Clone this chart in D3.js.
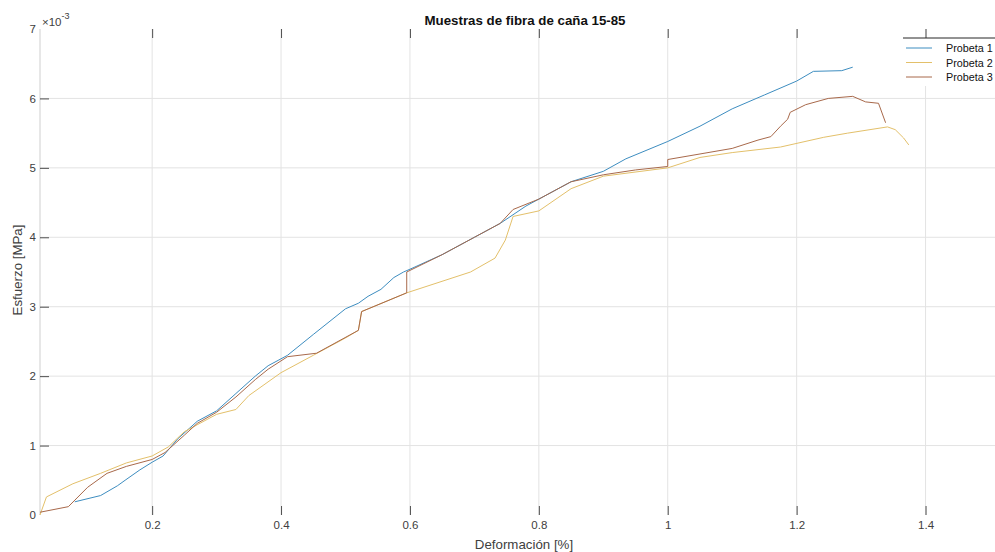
<!DOCTYPE html>
<html>
<head>
<meta charset="utf-8">
<script src="https://cdn.jsdelivr.net/npm/d3@7"></script>
<style>
  html, body { margin: 0; padding: 0; background: #fff; }
  svg { display: block; font-family: "Liberation Sans", Arial, sans-serif; }
</style>
</head>
<body>
<svg id="chart" width="995" height="552"></svg>
<script>
// Strain (%) and stress (x10^-3 MPa) for each specimen
const probeta1X = [0.08,0.12,0.146,0.158,0.181,0.2,0.217,0.24,0.27,0.3,0.33,0.36,0.38,0.41,0.45,0.5,0.52,0.535,0.555,0.575,0.59,0.6,0.65,0.7,0.74,0.78,0.8,0.85,0.9,0.935,1.0,1.05,1.1,1.15,1.2,1.226,1.27,1.287];
const probeta1Y = [0.19,0.28,0.42,0.5,0.65,0.76,0.85,1.1,1.35,1.5,1.75,2.0,2.15,2.3,2.6,2.97,3.05,3.15,3.25,3.42,3.5,3.54,3.75,4.0,4.2,4.45,4.55,4.8,4.95,5.13,5.38,5.6,5.85,6.05,6.25,6.39,6.4,6.45];

const probeta2X = [0.026,0.036,0.077,0.12,0.16,0.2,0.225,0.25,0.3,0.33,0.35,0.4,0.45,0.5,0.52,0.525,0.595,0.694,0.732,0.748,0.76,0.8,0.85,0.9,1.0,1.05,1.1,1.175,1.242,1.279,1.341,1.353,1.366,1.374];
const probeta2Y = [0.0,0.26,0.45,0.6,0.75,0.85,0.98,1.2,1.45,1.52,1.72,2.05,2.3,2.55,2.66,2.93,3.2,3.5,3.7,3.96,4.3,4.38,4.7,4.88,5.0,5.15,5.22,5.3,5.44,5.5,5.59,5.55,5.43,5.33];

const probeta3X = [0.026,0.07,0.1,0.13,0.16,0.2,0.22,0.25,0.27,0.3,0.33,0.36,0.38,0.41,0.455,0.52,0.525,0.595,0.595,0.65,0.7,0.74,0.76,0.8,0.85,0.9,0.95,1.0,1.0,1.05,1.1,1.14,1.16,1.175,1.186,1.19,1.214,1.249,1.287,1.307,1.327,1.338];
const probeta3Y = [0.04,0.12,0.4,0.6,0.7,0.8,0.9,1.15,1.32,1.48,1.7,1.95,2.1,2.28,2.33,2.66,2.93,3.2,3.5,3.75,4.0,4.2,4.4,4.55,4.8,4.9,4.97,5.02,5.12,5.2,5.28,5.4,5.45,5.6,5.7,5.8,5.91,6.0,6.03,5.95,5.93,5.65];

const seriesNames = ["Probeta 1", "Probeta 2", "Probeta 3"];
const seriesColors = ["#3d8dc0", "#e3c06a", "#a8694b"];
const xTicks = [0.2, 0.4, 0.6, 0.8, 1, 1.2, 1.4];
const yTicks = [0, 1, 2, 3, 4, 5, 6, 7];
const xDomain = [0.026, 1.5];
const yDomain = [0, 7];

const titleText = "Muestras de fibra de caña 15-85";
const xLabel = "Deformación [%]";
const yLabel = "Esfuerzo [MPa]";

const series = [
  { name: seriesNames[0], color: seriesColors[0], pts: probeta1X.map((v, i) => [v, probeta1Y[i]]) },
  { name: seriesNames[1], color: seriesColors[1], pts: probeta2X.map((v, i) => [v, probeta2Y[i]]) },
  { name: seriesNames[2], color: seriesColors[2], pts: probeta3X.map((v, i) => [v, probeta3Y[i]]) }
];

const svg = d3.select("#chart");
const plotL = 40, plotR = 990, plotT = 29, plotB = 515;

const xs = d3.scaleLinear().domain(xDomain).range([plotL, plotR]);
const ys = d3.scaleLinear().domain(yDomain).range([plotB, plotT]);

const tickColor = "#262626";
const gridColor = "#e3e3e3";
const textColor = "#404040";
const fontFam = "Liberation Sans, Arial, sans-serif";

// Grid
const grid = svg.append("g");
grid.selectAll("line.vg").data(xTicks).join("line")
  .attr("x1", d => xs(d)).attr("x2", d => xs(d))
  .attr("y1", plotT).attr("y2", plotB)
  .attr("stroke", gridColor).attr("stroke-width", 1);
grid.selectAll("line.hg").data(yTicks.slice(1, -1)).join("line")
  .attr("x1", plotL).attr("x2", 995)
  .attr("y1", d => ys(d)).attr("y2", d => ys(d))
  .attr("stroke", gridColor).attr("stroke-width", 1);

// Left axis line
svg.append("line")
  .attr("x1", plotL).attr("x2", plotL).attr("y1", plotT).attr("y2", plotB)
  .attr("stroke", "#cfcfcf");

// Bottom axis (ticks pointing inward, no domain line)
const xAxisBottom = d3.axisBottom(xs).tickValues(xTicks).tickSize(-9).tickPadding(6)
  .tickFormat(d3.format("~g"));
const gb = svg.append("g").attr("transform", `translate(0,${plotB})`).call(xAxisBottom);
gb.select(".domain").remove();
gb.selectAll(".tick line").attr("stroke", tickColor).attr("stroke-width", 0.8);
gb.selectAll(".tick text").attr("fill", textColor).attr("font-size", 11.5).attr("font-family", fontFam);

// Top ticks
const xAxisTop = d3.axisTop(xs).tickValues(xTicks).tickSize(-9).tickFormat("");
const gt = svg.append("g").attr("transform", `translate(0,${plotT})`).call(xAxisTop);
gt.select(".domain").remove();
gt.selectAll(".tick line").attr("stroke", tickColor).attr("stroke-width", 0.8);

// Left axis ticks and labels
const yAxis = d3.axisLeft(ys).tickValues(yTicks).tickSize(-9).tickPadding(4)
  .tickFormat(d3.format("~g"));
const gl = svg.append("g").attr("transform", `translate(${plotL},0)`).call(yAxis);
gl.select(".domain").remove();
gl.selectAll(".tick line").attr("stroke", tickColor).attr("stroke-width", 0.8)
  .filter(d => d === 0 || d === 7).remove();
gl.selectAll(".tick text").attr("fill", textColor).attr("font-size", 11.5).attr("font-family", fontFam);

// Exponent label
const expo = svg.append("text").attr("x", 42).attr("y", 26)
  .attr("font-size", 11.5).attr("fill", textColor);
expo.append("tspan").text("×10");
expo.append("tspan").attr("dy", -7).attr("font-size", 9).text("-3");

// Curves
const line = d3.line().x(d => xs(d[0])).y(d => ys(d[1]));
svg.append("g").selectAll("path").data(series).join("path")
  .attr("d", d => line(d.pts))
  .attr("fill", "none")
  .attr("stroke", d => d.color)
  .attr("stroke-width", 1)
  .attr("stroke-linejoin", "round");

// Title and axis labels
svg.append("text").attr("x", 525).attr("y", 25).attr("text-anchor", "middle")
  .attr("font-size", 13.3).attr("font-weight", "bold").attr("fill", "#111").text(titleText);
svg.append("text").attr("x", 524).attr("y", 549).attr("text-anchor", "middle")
  .attr("font-size", 13.3).attr("fill", textColor).text(xLabel);
svg.append("text").attr("transform", "translate(22,270) rotate(-90)").attr("text-anchor", "middle")
  .attr("font-size", 13.3).attr("fill", textColor).text(yLabel);

// Legend
const lg = svg.append("g");
lg.append("rect").attr("x", 903).attr("y", 38).attr("width", 92).attr("height", 48).attr("fill", "#fff");
lg.append("line").attr("x1", 903).attr("x2", 995).attr("y1", 38).attr("y2", 38)
  .attr("stroke", "#262626").attr("stroke-width", 1);
const items = lg.selectAll("g.item").data(series).join("g")
  .attr("transform", (d, i) => `translate(0,${48 + i * 14.5})`);
items.append("line").attr("x1", 906).attr("x2", 932).attr("y1", 0).attr("y2", 0)
  .attr("stroke", d => d.color).attr("stroke-width", 1);
items.append("text").attr("x", 946).attr("y", 4).attr("font-size", 10.8)
  .attr("fill", "#111").text(d => d.name);
</script>
</body>
</html>
